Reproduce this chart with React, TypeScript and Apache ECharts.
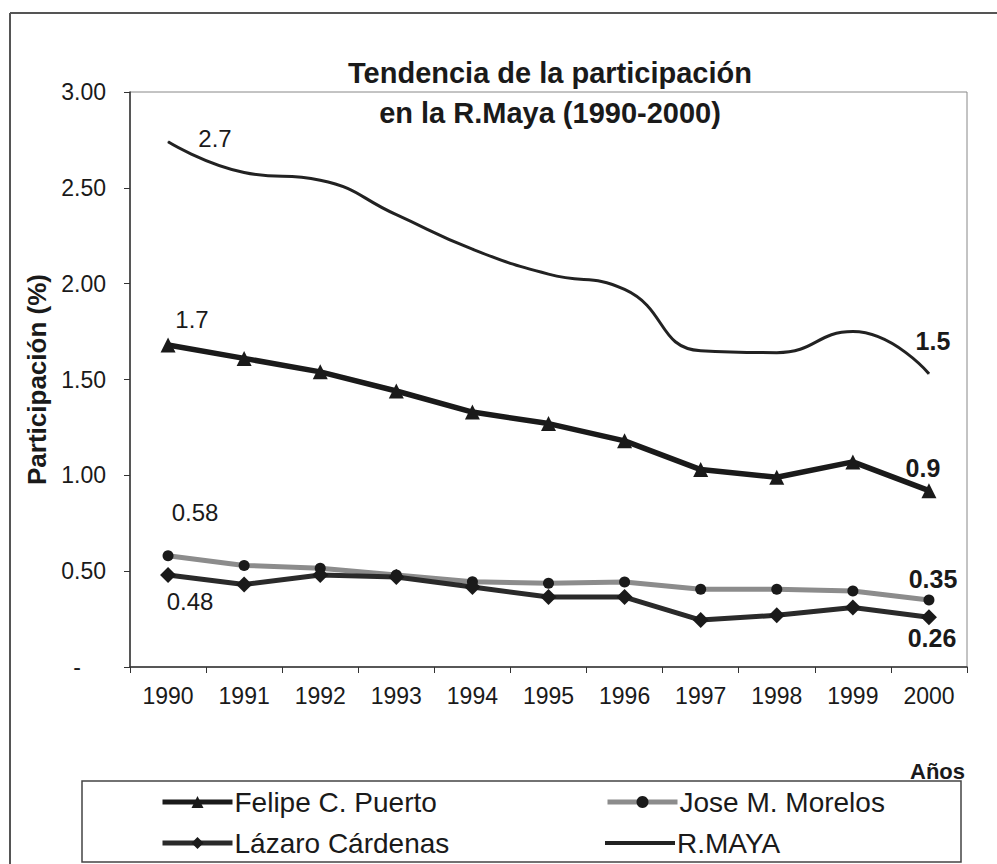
import React, { useEffect, useRef } from "react";
import * as echarts from "echarts";

const years = ["1990", "1991", "1992", "1993", "1994", "1995", "1996", "1997", "1998", "1999", "2000"];
const felipe = [1.68, 1.61, 1.54, 1.44, 1.33, 1.27, 1.18, 1.03, 0.99, 1.07, 0.92];
const jose = [0.58, 0.53, 0.515, 0.48, 0.445, 0.437, 0.443, 0.406, 0.406, 0.396, 0.35];
const lazaro = [0.48, 0.43, 0.48, 0.47, 0.417, 0.365, 0.365, 0.245, 0.27, 0.31, 0.26];
const rmaya = [2.74, 2.58, 2.54, 2.36, 2.18, 2.05, 1.97, 1.65, 1.64, 1.75, 1.53];
const yTicks = [0, 0.5, 1, 1.5, 2, 2.5, 3];

const FONT = "'Liberation Sans', Arial, sans-serif";

function withLabels(
  values: number[],
  decimals: number,
  first: { offset: number[]; bold: boolean },
  last: { offset: number[]; bold: boolean },
  endSymbol?: boolean
) {
  const lastIdx = values.length - 1;
  return values.map((v, i) => {
    if (i !== 0 && i !== lastIdx) return v;
    const cfg = i === 0 ? first : last;
    const item: any = {
      value: v,
      label: {
        show: true,
        position: "inside",
        offset: cfg.offset,
        formatter: () => v.toFixed(decimals),
        fontFamily: FONT,
        fontSize: cfg.bold ? 25 : 24,
        fontWeight: cfg.bold ? "bold" : "normal",
        color: "#1a1a1a",
        align: "center",
        verticalAlign: "middle",
      },
    };
    if (endSymbol) {
      item.symbol = "circle";
      item.symbolSize = 1;
    }
    return item;
  });
}

function legendAt(name: string, left: number, top: number, icon?: string) {
  return {
    data: [icon ? { name, icon } : name],
    orient: "horizontal",
    left,
    top,
    itemWidth: 70,
    itemHeight: 15,
    padding: 0,
    lineStyle: { width: 5 },
    textStyle: { fontFamily: FONT, fontSize: 28, color: "#1a1a1a", lineHeight: 30, padding: [0, 0, 0, -3] },
    selectedMode: false,
  };
}

export default function App() {
  const ref = useRef<HTMLDivElement>(null);
  useEffect(() => {
    if (!ref.current) return;
    const chart = echarts.init(ref.current, undefined, { renderer: "svg" });
    chart.setOption({
      animation: false,
      backgroundColor: "#ffffff",
      title: {
        text: "Tendencia de la participación\nen la R.Maya (1990-2000)",
        left: 545,
        top: 48,
        textAlign: "center",
        textStyle: { fontFamily: FONT, fontSize: 29, fontWeight: "bold", color: "#1a1a1a", lineHeight: 40 },
      },
      grid: {
        left: 130,
        top: 92,
        right: 30,
        bottom: 197,
        show: true,
        borderColor: "#888",
        borderWidth: 1,
        backgroundColor: "transparent",
      },
      xAxis: {
        type: "category",
        data: years,
        boundaryGap: true,
        axisLine: { lineStyle: { color: "#333", width: 1.5 } },
        axisTick: { show: true, length: 6, lineStyle: { color: "#333" } },
        axisLabel: { fontFamily: FONT, fontSize: 23, color: "#1a1a1a", margin: 17 },
        splitLine: { show: false },
      },
      yAxis: {
        type: "value",
        min: yTicks[0],
        max: yTicks[yTicks.length - 1],
        interval: 0.5,
        name: "Participación (%)",
        nameLocation: "middle",
        nameRotate: 90,
        nameGap: 80,
        nameTextStyle: { fontFamily: FONT, fontSize: 26, fontWeight: "bold", color: "#1a1a1a" },
        axisLine: { show: true, lineStyle: { color: "#333", width: 1.5 } },
        axisTick: { show: true, length: 6, lineStyle: { color: "#333" } },
        axisLabel: {
          fontFamily: FONT,
          fontSize: 23,
          color: "#1a1a1a",
          margin: 24,
          formatter: (v: number) => (v === 0 ? "{d|-}" : v.toFixed(2)),
          rich: { d: { fontFamily: FONT, fontSize: 23, color: "#1a1a1a", padding: [0, 25, 0, 0] } },
        },
        splitLine: { show: false },
      },
      legend: [
        legendAt("Felipe C. Puerto", 160, 787),
        legendAt("Lázaro Cárdenas", 160, 828),
        legendAt("Jose M. Morelos", 605, 787),
        legendAt("R.MAYA", 605, 828, "path://M0,0h70v4h-70z"),
      ],
      graphic: [
        {
          type: "line",
          shape: { x1: 10, y1: 13, x2: 997, y2: 13 },
          style: { stroke: "#555", lineWidth: 2 },
        },
        {
          type: "line",
          shape: { x1: 10, y1: 13, x2: 10, y2: 864 },
          style: { stroke: "#555", lineWidth: 2 },
        },
        {
          type: "rect",
          shape: { x: 82, y: 781, width: 879, height: 81 },
          style: { fill: "none", stroke: "#444", lineWidth: 1.5 },
        },
        {
          type: "text",
          right: 32,
          top: 760,
          style: { text: "Años", fontFamily: FONT, fontSize: 22, fontWeight: "bold", fill: "#1a1a1a" },
        },
      ],
      series: [
        {
          name: "Felipe C. Puerto",
          type: "line",
          data: withLabels(felipe, 1, { offset: [24, -26], bold: false }, { offset: [-6, -23], bold: true }),
          symbol: "triangle",
          symbolSize: 15,
          lineStyle: { color: "#1a1a1a", width: 5.5 },
          itemStyle: { color: "#1a1a1a" },
          z: 3,
        },
        {
          name: "Jose M. Morelos",
          type: "line",
          data: withLabels(jose, 2, { offset: [27, -43], bold: false }, { offset: [4, -21], bold: true }),
          symbol: "circle",
          symbolSize: 11,
          lineStyle: { color: "#8c8c8c", width: 5 },
          itemStyle: { color: "#1a1a1a" },
          z: 3,
        },
        {
          name: "Lázaro Cárdenas",
          type: "line",
          data: withLabels(lazaro, 2, { offset: [22, 26], bold: false }, { offset: [3, 21], bold: true }),
          symbol: "diamond",
          symbolSize: 16,
          lineStyle: { color: "#2a2a2a", width: 5 },
          itemStyle: { color: "#1a1a1a" },
          z: 4,
        },
        {
          name: "R.MAYA",
          type: "line",
          data: withLabels(rmaya, 1, { offset: [47, -3], bold: false }, { offset: [4, -33], bold: true }, true),
          symbol: "none",
          smooth: 0.5,
          lineStyle: { color: "#222", width: 3 },
          itemStyle: { color: "#222" },
          z: 3,
        },
      ],
    });
    return () => chart.dispose();
  }, []);
  return <div ref={ref} style={{ position: "fixed", left: 0, top: 0, width: 997, height: 864 }} />;
}
